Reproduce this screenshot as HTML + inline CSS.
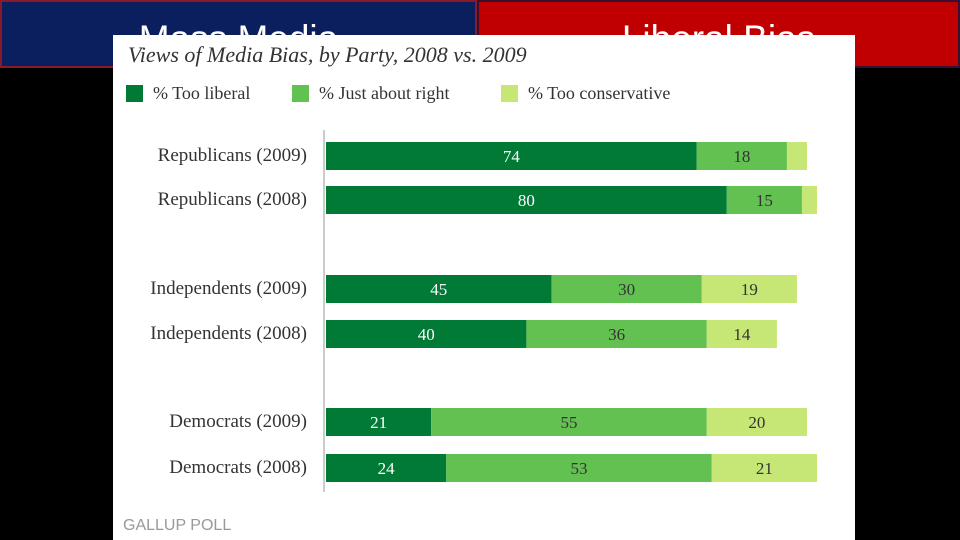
<!DOCTYPE html>
<html><head><meta charset="utf-8"><style>
body{margin:0;width:960px;height:540px;background:#000;position:relative;overflow:hidden;font-family:"Liberation Serif",serif}
.hdr{position:absolute;top:0;height:68px;color:#fff;font-family:"Liberation Sans",sans-serif;font-size:37px;text-align:center;line-height:74px;box-sizing:border-box}
#panel{position:absolute;left:113px;top:35px;width:742px;height:505px;background:#fff}
</style></head><body>
<div class="hdr" style="left:0;width:477px;background:#0b1f5e;border:2px solid #8a1a2a">Mass Media</div>
<div class="hdr" style="left:477px;width:483px;background:#c00000;border:2px solid #3a1030">Liberal Bias</div>
<div id="panel"></div>
<svg id="chart" width="960" height="540" style="position:absolute;left:0;top:0">
<text x="128" y="62" font-size="22" font-style="italic" fill="#333">Views of Media Bias, by Party, 2008 vs. 2009</text>
<g id="legend"></g>
<line x1="324" y1="130" x2="324" y2="492" stroke="#ccc" stroke-width="2"/>
<g id="bars"></g>
<text x="123" y="530" font-family="Liberation Sans,sans-serif" font-size="16" fill="#999">GALLUP POLL</text>
</svg>
<script>
const categories=["Republicans (2009)","Republicans (2008)","Independents (2009)","Independents (2008)","Democrats (2009)","Democrats (2008)"];
const tooLiberal=[74,80,45,40,21,24];
const justRight=[18,15,30,36,55,53];
const tooConservative=[4,3,19,14,20,21];
const showConservative=[false,false,true,true,true,true];
const seriesNames=["% Too liberal","% Just about right","% Too conservative"];
const colors=["#017a36","#62c151","#c6e775"];
const NS="http://www.w3.org/2000/svg";
const x0=326,ppu=5.01;
const rowY=[156,200,289,334,422,468];
function xs(v){return v*ppu;}
const g=document.getElementById('bars'),lg=document.getElementById('legend');
const legX=[126,292,501];
seriesNames.forEach((n,i)=>{
 const r=document.createElementNS(NS,'rect');
 r.setAttribute('x',legX[i]);r.setAttribute('y',85);r.setAttribute('width',17);r.setAttribute('height',17);r.setAttribute('fill',colors[i]);
 
 
 lg.appendChild(r);
 const t=document.createElementNS(NS,'text');
 t.setAttribute('x',legX[i]+27);t.setAttribute('y',99);t.setAttribute('font-size',18);t.setAttribute('fill','#333');t.textContent=n;
 
 
 lg.appendChild(t);
});
categories.forEach((c,i)=>{
 const cy=rowY[i];
 const lab=document.createElementNS(NS,'text');
 lab.setAttribute('x',307);lab.setAttribute('y',cy+5);lab.setAttribute('text-anchor','end');lab.setAttribute('font-size',19);lab.setAttribute('fill','#333');lab.textContent=c;
 
 
 g.appendChild(lab);
 const vals=[tooLiberal[i],justRight[i],tooConservative[i]];
 let acc=0;
 vals.forEach((v,k)=>{
  const r=document.createElementNS(NS,'rect');
  r.setAttribute('x',x0+xs(acc));r.setAttribute('y',cy-14);r.setAttribute('width',xs(v));r.setAttribute('height',28);r.setAttribute('fill',colors[k]);
  
  
  g.appendChild(r);
  if(k<2||showConservative[i]){
   const t=document.createElementNS(NS,'text');
   t.setAttribute('x',x0+xs(acc+v/2));t.setAttribute('y',cy+6);t.setAttribute('text-anchor','middle');t.setAttribute('font-size',17);
   t.setAttribute('fill',k==0?'#fff':'#333');t.textContent=v;
   
   
   g.appendChild(t);
  }
  acc+=v;
 });
});
</script>
</body></html>
